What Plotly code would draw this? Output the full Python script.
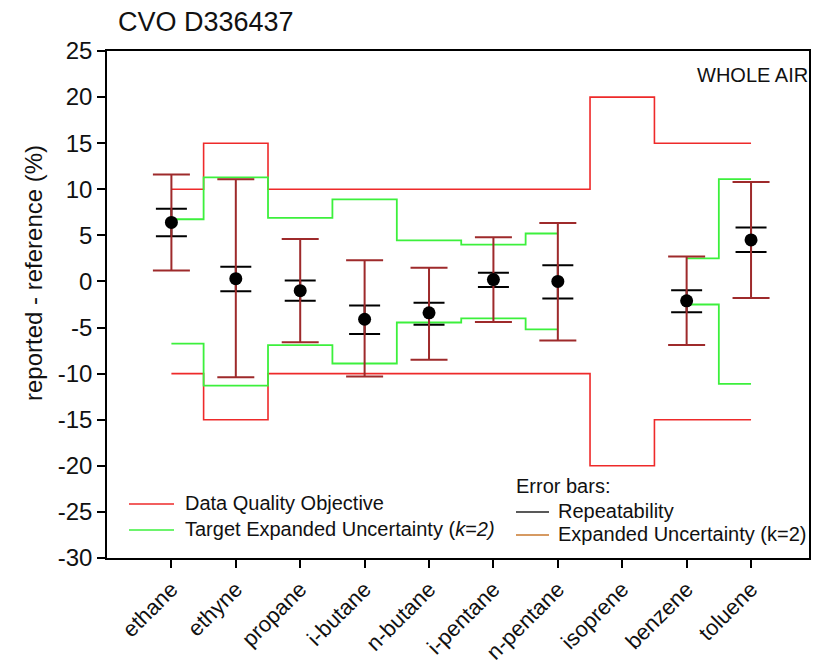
import plotly.graph_objects as go

categories = ["ethane", "ethyne", "propane", "i-butane", "n-butane",
              "i-pentane", "n-pentane", "isoprene", "benzene", "toluene"]
x_pos = [1, 2, 3, 4, 5, 6, 7, 8, 9, 10]

# reported - reference (%)
values = [6.4, 0.3, -1.0, -4.1, -3.4, 0.2, 0.0, None, -2.1, 4.5]
# repeatability bounds
rep_upper = [7.9, 1.6, 0.1, -2.6, -2.3, 0.95, 1.75, None, -0.95, 5.85]
rep_lower = [4.9, -1.05, -2.1, -5.7, -4.7, -0.6, -1.85, None, -3.35, 3.2]
# expanded uncertainty (k=2) bounds
exp_upper = [11.6, 11.1, 4.6, 2.3, 1.5, 4.8, 6.35, None, 2.7, 10.8]
exp_lower = [1.2, -10.4, -6.6, -10.3, -8.5, -4.4, -6.4, None, -6.9, -1.8]

# Data Quality Objective (+/-)
dqo = [10, 15, 10, 10, 10, 10, 10, 20, 15, 15]
# Target Expanded Uncertainty (k=2) (+/-)
teu = [6.75, 11.3, 6.9, 8.9, 4.45, 4.0, 5.2, None, 2.5, 11.1]

y_ticks = [25, 20, 15, 10, 5, 0, -5, -10, -15, -20, -25, -30]
y_tick_labels = ["25", "20", "15", "10", "5", "0", "-5", "-10", "-15", "-20", "-25", "-30"]

RED = "#EE2A2A"
GREEN = "#3CF03C"
ERR = "#9E2A2B"
FONT = "Liberation Sans, Arial, sans-serif"

fig = go.Figure()

# DQO step lines
fig.add_trace(go.Scatter(x=x_pos, y=dqo, mode="lines", line=dict(color=RED, width=1.6, shape="hvh"),
                         showlegend=False, hoverinfo="skip"))
fig.add_trace(go.Scatter(x=x_pos, y=[-v for v in dqo], mode="lines",
                         line=dict(color=RED, width=1.6, shape="hvh"), showlegend=False, hoverinfo="skip"))
# TEU step lines
fig.add_trace(go.Scatter(x=x_pos, y=teu, mode="lines", line=dict(color=GREEN, width=1.8, shape="hvh"),
                         connectgaps=False, showlegend=False, hoverinfo="skip"))
fig.add_trace(go.Scatter(x=x_pos, y=[(-v if v is not None else None) for v in teu], mode="lines",
                         line=dict(color=GREEN, width=1.8, shape="hvh"), connectgaps=False,
                         showlegend=False, hoverinfo="skip"))

def err(up, lo, val):
    plus = [(u - v) if v is not None else None for u, v in zip(up, val)]
    minus = [(v - l) if v is not None else None for l, v in zip(lo, val)]
    return plus, minus

rp, rm = err(rep_upper, rep_lower, values)
ep, em = err(exp_upper, exp_lower, values)

fig.add_trace(go.Scatter(x=x_pos, y=values, mode="markers", marker=dict(size=1, opacity=0),
                         error_y=dict(type="data", symmetric=False, array=rp, arrayminus=rm,
                                      color="black", thickness=2, width=15.5),
                         showlegend=False, hoverinfo="skip"))
fig.add_trace(go.Scatter(x=x_pos, y=values, mode="markers", marker=dict(size=1, opacity=0),
                         error_y=dict(type="data", symmetric=False, array=ep, arrayminus=em,
                                      color=ERR, thickness=2, width=18.5),
                         showlegend=False, hoverinfo="skip"))
fig.add_trace(go.Scatter(x=x_pos, y=values, mode="markers",
                         marker=dict(size=13, color="black"), showlegend=False))

W, H = 815, 665
L, R, T, B = 107, 809, 51, 558          # plot area in page pixels
def px(x):
    return (x - L) / (R - L)
def py(y):
    return (B - y) / (B - T)

shapes = []
annotations = []
def leg_line(x0, x1, y, color):
    shapes.append(dict(type="line", xref="paper", yref="paper", x0=px(x0), x1=px(x1),
                       y0=py(y), y1=py(y), line=dict(color=color, width=1.6)))
def leg_text(x, y, text):
    annotations.append(dict(xref="paper", yref="paper", x=px(x), y=py(y), text=text,
                            showarrow=False, xanchor="left", yanchor="middle",
                            font=dict(size=20, color="#111111", family=FONT)))

leg_line(129, 174, 504, RED)
leg_text(183, 503, "Data Quality Objective")
leg_line(129, 174, 530, GREEN)
leg_text(183, 529, "Target Expanded Uncertainty (<i>k</i>=<i>2)</i>")
leg_text(514, 486, "Error bars:")
leg_line(516, 549, 512, "#222222")
leg_text(556, 511, "Repeatability")
leg_line(516, 549, 535, "#C8782E")
leg_text(556, 534, "Expanded Uncertainty (k=2)")
leg_text(695, 75, "WHOLE AIR")

annotations.append(dict(xref="paper", yref="paper", x=px(33), y=py(273),
                        text="reported - reference (%)", textangle=-90, showarrow=False,
                        xanchor="center", yanchor="middle",
                        font=dict(size=24, color="#111111", family=FONT)))

fig.update_layout(
    width=W, height=H,
    margin=dict(l=L, r=W - R, t=T, b=H - B, pad=0),
    paper_bgcolor="white", plot_bgcolor="white",
    font=dict(family=FONT, color="#111111"),
    title=dict(text="CVO D336437", x=118 / W, xanchor="left", xref="container",
               y=1 - 22 / H, yref="container", yanchor="middle", automargin=False,
               font=dict(size=27, family=FONT, color="#111111")),
    shapes=shapes, annotations=annotations,
    showlegend=False,
)
fig.update_xaxes(range=[0.0, 10.9], tickmode="array", tickvals=x_pos, ticktext=categories,
                 tickangle=-45, ticks="outside", ticklen=8, tickwidth=1.5, tickcolor="black",
                 showline=True, linecolor="black", linewidth=1.5, mirror=True, automargin=False,
                 showgrid=False, zeroline=False, tickfont=dict(size=22, family=FONT, color="#111111"))
fig.update_yaxes(range=[-30, 25], tickmode="array", tickvals=y_ticks, ticktext=y_tick_labels,
                 ticks="outside", ticklen=8, tickwidth=1.5, tickcolor="black",
                 showline=True, linecolor="black", linewidth=1.5, mirror=True, automargin=False,
                 showgrid=False, zeroline=False, tickfont=dict(size=24, family=FONT, color="#111111"))

fig.write_html("out.html", config={"displayModeBar": False},
               post_script="document.body.style.margin='0';document.body.style.overflow='hidden';")
